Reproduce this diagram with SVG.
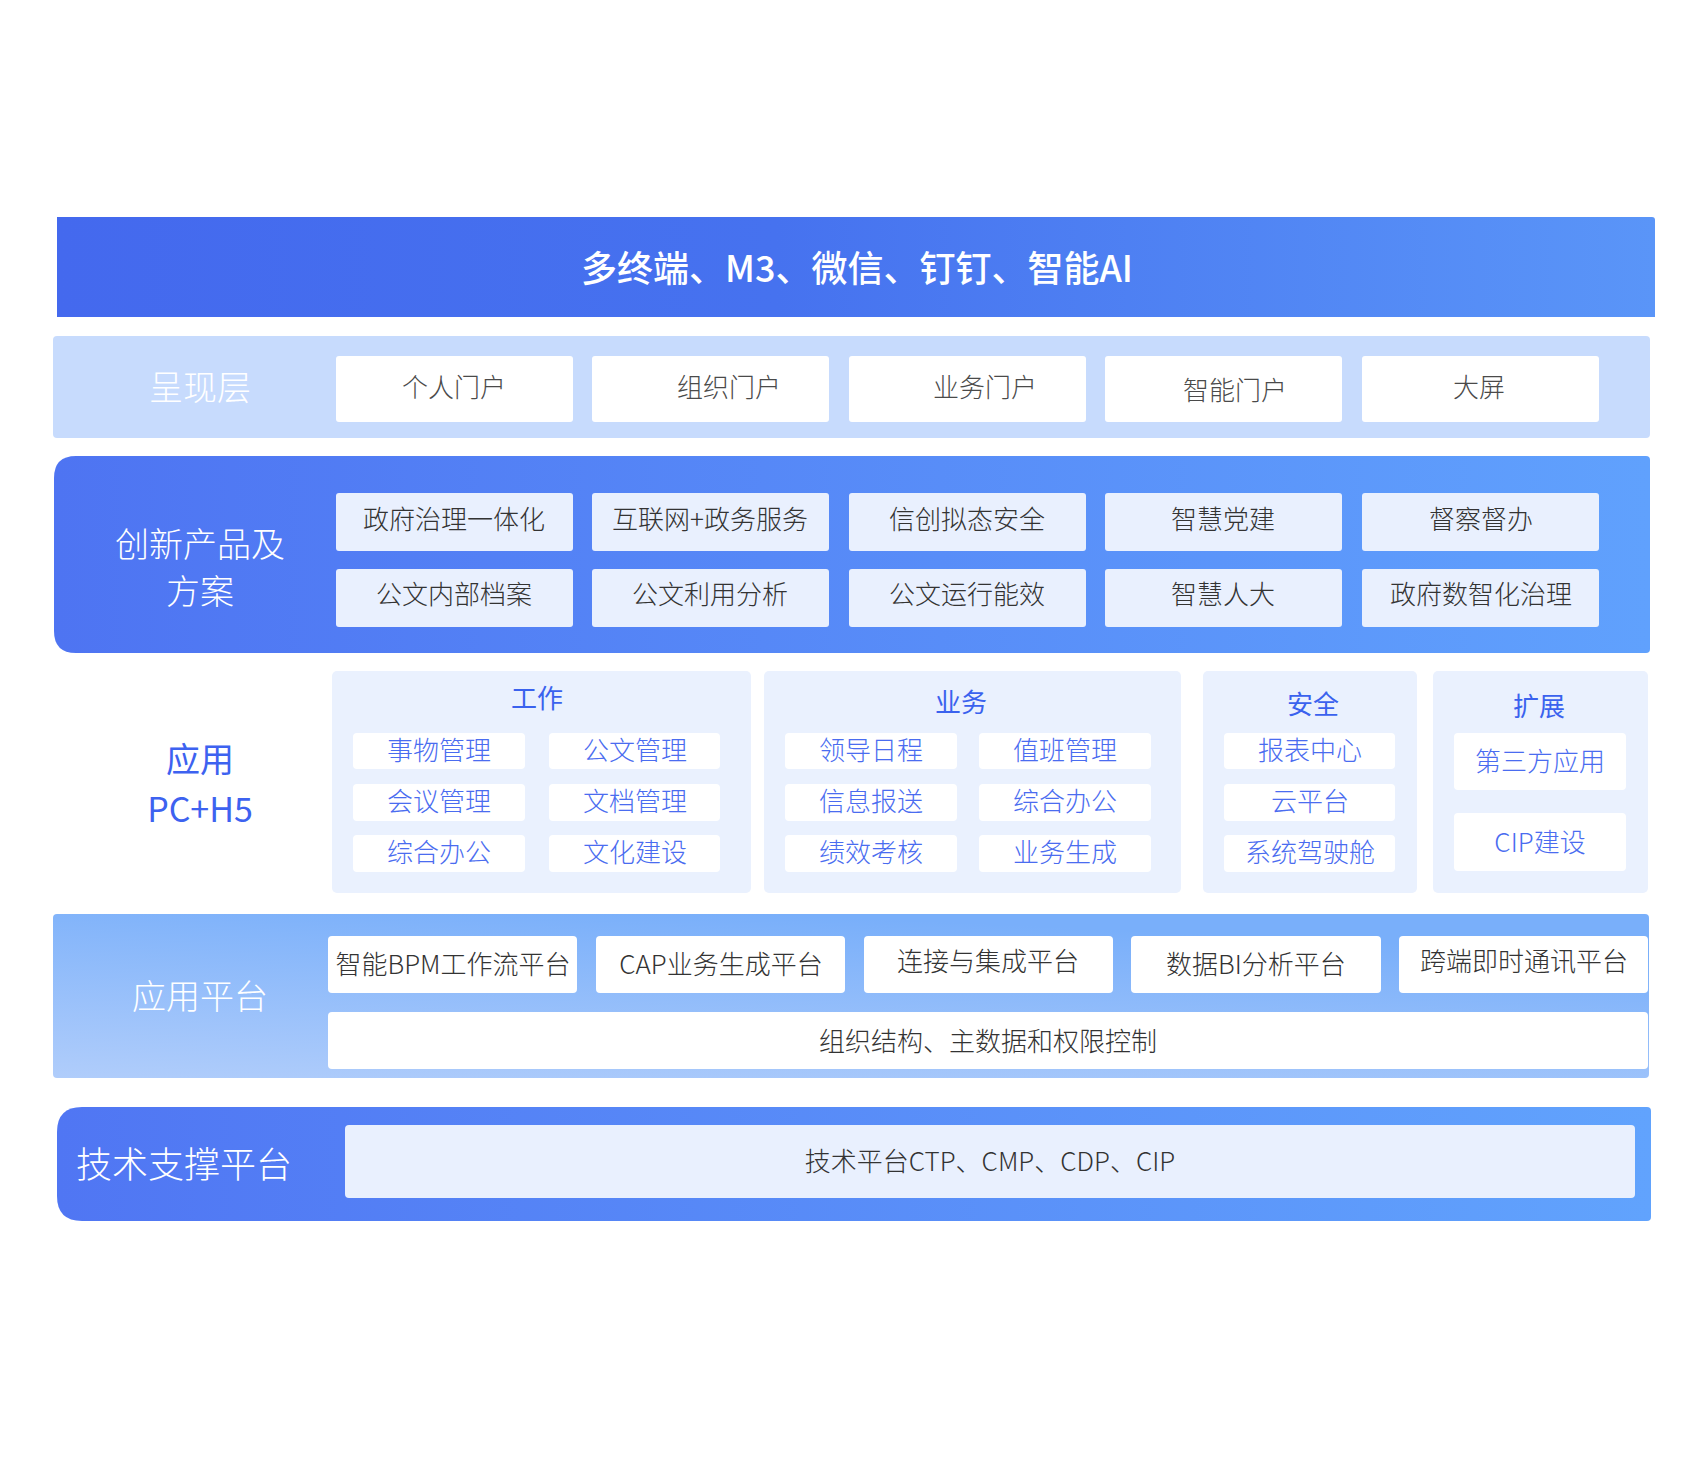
<svg xmlns="http://www.w3.org/2000/svg" width="1700" height="1480" viewBox="0 0 1700 1480">
<defs>
<linearGradient id="gTop" x1="0" y1="0" x2="1" y2="0">
<stop offset="0" stop-color="#4469ee"/><stop offset="0.45" stop-color="#4672ef"/><stop offset="1" stop-color="#5a95f8"/>
</linearGradient>
<linearGradient id="gInno" x1="0" y1="0" x2="1" y2="0">
<stop offset="0" stop-color="#4e74f2"/><stop offset="1" stop-color="#60a1fd"/>
</linearGradient>
<linearGradient id="gPlat" x1="0" y1="1" x2="0.45" y2="0">
<stop offset="0" stop-color="#b0cdfb"/><stop offset="1" stop-color="#79affa"/>
</linearGradient>
<linearGradient id="gTech" x1="0" y1="0" x2="1" y2="0">
<stop offset="0" stop-color="#5076f3"/><stop offset="1" stop-color="#61a3fd"/>
</linearGradient>
<style>
text{font-family:"Noto Sans CJK SC","Liberation Sans",sans-serif;text-anchor:middle;dominant-baseline:central;font-weight:300;transform:translateY(-3px)}
.lbl{fill:#ffffff;font-size:34px}
.gray{fill:#4a4a4a;font-size:26px}
.dark{fill:#333333;font-size:26px}
.blue{fill:#4a6cf0;font-size:26px}
.ttl{fill:#3a62ee;font-size:26px;font-weight:400}
.wbox{fill:#ffffff}
.lbox{fill:#e9f0fe}
.panel{fill:#eaf1fe}
</style>
</defs>

<g id="top-bar">
<path d="M57 217 H1652 Q1655 217 1655 220 V317 H57 Z" fill="url(#gTop)"/>
<text x="857" y="269" style="fill:#fff;font-size:36px;font-weight:500">多终端、M3、微信、钉钉、智能AI</text>
</g>

<g id="presentation-layer">
<rect x="53" y="336" width="1597" height="102" rx="4" fill="#c7dbfd"/>
<text class="lbl" x="200" y="388">呈现层</text>
<g id="portal-1"><rect class="wbox" x="336" y="356" width="237" height="66" rx="3"/><text class="gray" x="454" y="388">个人门户</text></g>
<g id="portal-2"><rect class="wbox" x="592" y="356" width="237" height="66" rx="3"/><text class="gray" x="729" y="388">组织门户</text></g>
<g id="portal-3"><rect class="wbox" x="849" y="356" width="237" height="66" rx="3"/><text class="gray" x="985" y="388">业务门户</text></g>
<g id="portal-4"><rect class="wbox" x="1105" y="356" width="237" height="66" rx="3"/><text class="gray" x="1235" y="391">智能门户</text></g>
<g id="portal-5"><rect class="wbox" x="1362" y="356" width="237" height="66" rx="3"/><text class="gray" x="1479" y="388">大屏</text></g>
</g>

<g id="innovation">
<path d="M76 456 H1646 Q1650 456 1650 460 V649 Q1650 653 1646 653 H76 Q54 653 54 631 V478 Q54 456 76 456 Z" fill="url(#gInno)"/>
<text class="lbl" x="200" y="545">创新产品及</text>
<text class="lbl" x="200" y="592">方案</text>
<g id="inno-1"><rect class="lbox" x="336" y="493" width="237" height="58" rx="3"/><text class="dark" x="454" y="520">政府治理一体化</text></g>
<g id="inno-2"><rect class="lbox" x="592" y="493" width="237" height="58" rx="3"/><text class="dark" x="710" y="520">互联网+政务服务</text></g>
<g id="inno-3"><rect class="lbox" x="849" y="493" width="237" height="58" rx="3"/><text class="dark" x="967" y="520">信创拟态安全</text></g>
<g id="inno-4"><rect class="lbox" x="1105" y="493" width="237" height="58" rx="3"/><text class="dark" x="1223" y="520">智慧党建</text></g>
<g id="inno-5"><rect class="lbox" x="1362" y="493" width="237" height="58" rx="3"/><text class="dark" x="1481" y="520">督察督办</text></g>
<g id="inno-6"><rect class="lbox" x="336" y="569" width="237" height="58" rx="3"/><text class="dark" x="454" y="595">公文内部档案</text></g>
<g id="inno-7"><rect class="lbox" x="592" y="569" width="237" height="58" rx="3"/><text class="dark" x="710" y="595">公文利用分析</text></g>
<g id="inno-8"><rect class="lbox" x="849" y="569" width="237" height="58" rx="3"/><text class="dark" x="967" y="595">公文运行能效</text></g>
<g id="inno-9"><rect class="lbox" x="1105" y="569" width="237" height="58" rx="3"/><text class="dark" x="1223" y="595">智慧人大</text></g>
<g id="inno-10"><rect class="lbox" x="1362" y="569" width="237" height="58" rx="3"/><text class="dark" x="1481" y="595">政府数智化治理</text></g>
</g>

<g id="application">
<text x="200" y="760" style="fill:#3d62f0;font-size:34px;font-weight:400">应用</text>
<text x="200" y="810" style="fill:#3d62f0;font-size:34px;font-weight:400">PC+H5</text>

<g id="panel-work">
<rect class="panel" x="332" y="671" width="419" height="222" rx="5"/>
<text class="ttl" x="537" y="699">工作</text>
<rect class="wbox" x="353" y="733" width="172" height="36" rx="4"/><text class="blue" x="439" y="751">事物管理</text>
<rect class="wbox" x="549" y="733" width="171" height="36" rx="4"/><text class="blue" x="635" y="751">公文管理</text>
<rect class="wbox" x="353" y="784" width="172" height="37" rx="4"/><text class="blue" x="439" y="802">会议管理</text>
<rect class="wbox" x="549" y="784" width="171" height="37" rx="4"/><text class="blue" x="635" y="802">文档管理</text>
<rect class="wbox" x="353" y="835" width="172" height="37" rx="4"/><text class="blue" x="439" y="853">综合办公</text>
<rect class="wbox" x="549" y="835" width="171" height="37" rx="4"/><text class="blue" x="635" y="853">文化建设</text>
</g>

<g id="panel-business">
<rect class="panel" x="764" y="671" width="417" height="222" rx="5"/>
<text class="ttl" x="961" y="703">业务</text>
<rect class="wbox" x="785" y="733" width="172" height="36" rx="4"/><text class="blue" x="871" y="751">领导日程</text>
<rect class="wbox" x="979" y="733" width="172" height="36" rx="4"/><text class="blue" x="1065" y="751">值班管理</text>
<rect class="wbox" x="785" y="784" width="172" height="37" rx="4"/><text class="blue" x="871" y="802">信息报送</text>
<rect class="wbox" x="979" y="784" width="172" height="37" rx="4"/><text class="blue" x="1065" y="802">综合办公</text>
<rect class="wbox" x="785" y="835" width="172" height="37" rx="4"/><text class="blue" x="871" y="853">绩效考核</text>
<rect class="wbox" x="979" y="835" width="172" height="37" rx="4"/><text class="blue" x="1065" y="853">业务生成</text>
</g>

<g id="panel-security">
<rect class="panel" x="1203" y="671" width="214" height="222" rx="5"/>
<text class="ttl" x="1313" y="705">安全</text>
<rect class="wbox" x="1224" y="733" width="171" height="36" rx="4"/><text class="blue" x="1310" y="751">报表中心</text>
<rect class="wbox" x="1224" y="784" width="171" height="37" rx="4"/><text class="blue" x="1310" y="802">云平台</text>
<rect class="wbox" x="1224" y="835" width="171" height="37" rx="4"/><text class="blue" x="1310" y="853">系统驾驶舱</text>
</g>

<g id="panel-extend">
<rect class="panel" x="1433" y="671" width="215" height="222" rx="5"/>
<text class="ttl" x="1539" y="707">扩展</text>
<rect class="wbox" x="1454" y="733" width="172" height="57" rx="4"/><text class="blue" x="1540" y="762">第三方应用</text>
<rect class="wbox" x="1454" y="813" width="172" height="58" rx="4"/><text class="blue" x="1540" y="843">CIP建设</text>
</g>
</g>

<g id="app-platform">
<rect x="53" y="914" width="1596" height="164" rx="4" fill="url(#gPlat)"/>
<text class="lbl" x="200" y="997">应用平台</text>
<g id="plat-1"><rect class="wbox" x="328" y="936" width="249" height="57" rx="4"/><text class="dark" x="453" y="965">智能BPM工作流平台</text></g>
<g id="plat-2"><rect class="wbox" x="596" y="936" width="249" height="57" rx="4"/><text class="dark" x="721" y="965">CAP业务生成平台</text></g>
<g id="plat-3"><rect class="wbox" x="864" y="936" width="249" height="57" rx="4"/><text class="dark" x="988" y="962">连接与集成平台</text></g>
<g id="plat-4"><rect class="wbox" x="1131" y="936" width="250" height="57" rx="4"/><text class="dark" x="1256" y="965">数据BI分析平台</text></g>
<g id="plat-5"><rect class="wbox" x="1399" y="936" width="249" height="57" rx="4"/><text class="dark" x="1524" y="962">跨端即时通讯平台</text></g>
<g id="plat-6"><rect class="wbox" x="328" y="1012" width="1320" height="57" rx="4"/><text class="dark" x="988" y="1042">组织结构、主数据和权限控制</text></g>
</g>

<g id="tech-platform">
<path d="M82 1107 H1647 Q1651 1107 1651 1111 V1217 Q1651 1221 1647 1221 H82 Q57 1221 57 1196 V1132 Q57 1107 82 1107 Z" fill="url(#gTech)"/>
<text x="184" y="1165" style="fill:#fff;font-size:36px">技术支撑平台</text>
<g id="tech-box"><rect class="lbox" x="345" y="1125" width="1290" height="73" rx="4"/><text class="dark" x="990" y="1162">技术平台CTP、CMP、CDP、CIP</text></g>
</g>
</svg>
